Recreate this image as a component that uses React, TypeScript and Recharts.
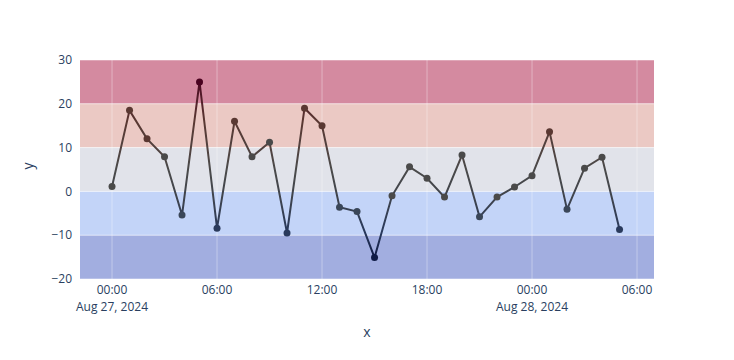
import { LineChart, Line, XAxis, YAxis, ReferenceArea, ReferenceLine } from 'recharts';

// hours since Aug 27, 2024 00:00
const hours = [
  0, 1, 2, 3, 4, 5, 6, 7, 8, 9, 10, 11, 12, 13, 14, 15, 16, 17, 18, 19, 20, 21, 22, 23, 24, 25, 26, 27,
  28, 29,
];
const values = [
  1.1, 18.5, 12.0, 7.9, -5.4, 25.0, -8.4, 16.0, 7.9, 11.2, -9.5, 19.0, 15.0, -3.6, -4.6, -15.1, -1.0,
  5.6, 3.0, -1.3, 8.3, -5.8, -1.3, 1.0, 3.6, 13.6, -4.1, 5.3, 7.8, -8.7,
];
const xTicks = [0, 6, 12, 18, 24, 30];
const xTickTimes = ['00:00', '06:00', '12:00', '18:00', '00:00', '06:00'];
const xTickDates = ['Aug 27, 2024', '', '', '', 'Aug 28, 2024', ''];
const yTicks = [-20, -10, 0, 10, 20, 30];
const bands = [
  { y1: 20, y2: 30, color: '#d48aa0' },
  { y1: 10, y2: 20, color: '#ebc9c4' },
  { y1: 0, y2: 10, color: '#e1e3ea' },
  { y1: -10, y2: 0, color: '#c3d4f8' },
  { y1: -20, y2: -10, color: '#a2aee0' },
];

const data = hours.map((h, i) => ({ h, y: values[i] }));

const font = '"Open Sans", sans-serif';
const textColor = '#2a3f5f';

function pointColor(v: number) {
  if (v >= 22) return '#4a0320';
  if (v >= 12) return '#5a3832';
  if (v >= -2) return '#4a4a4a';
  if (v >= -7) return '#3a4658';
  if (v >= -12) return '#2a3a5c';
  return '#0f1b46';
}

function Dot(props: any) {
  const { cx, cy, payload } = props;
  if (cx == null || cy == null) return null;
  return <circle cx={cx} cy={cy} r={3.5} fill={pointColor(payload.y)} />;
}

function XTick(props: any) {
  const { x, y, payload, index } = props;
  const i = xTicks.indexOf(payload.value);
  return (
    <g key={index}>
      <text x={x} y={y + 7} textAnchor="middle" fontSize={12} fill={textColor} fontFamily={font}>
        {xTickTimes[i]}
      </text>
      {xTickDates[i] && (
        <text x={x} y={y + 24} textAnchor="middle" fontSize={12} fill={textColor} fontFamily={font}>
          {xTickDates[i]}
        </text>
      )}
    </g>
  );
}

export default function App() {
  return (
    <div style={{ position: 'absolute', left: 0, top: 0, width: 734, height: 360, background: '#fff' }}>
      <LineChart width={734} height={360} data={data} margin={{ top: 60, right: 80, bottom: 0, left: 0 }}>
        <defs>
          <linearGradient id="lineGrad" x1="0" y1="60" x2="0" y2="279" gradientUnits="userSpaceOnUse">
            <stop offset="0%" stopColor="#4a0320" />
            <stop offset="10%" stopColor="#4d0a22" />
            <stop offset="28%" stopColor="#5a3832" />
            <stop offset="50%" stopColor="#4a4a4a" />
            <stop offset="62%" stopColor="#40444c" />
            <stop offset="78%" stopColor="#2a3a5c" />
            <stop offset="90%" stopColor="#0f1b46" />
            <stop offset="100%" stopColor="#0a1440" />
          </linearGradient>
        </defs>
        <XAxis
          dataKey="h"
          type="number"
          domain={[-1.83, 30.97]}
          ticks={xTicks}
          allowDataOverflow
          axisLine={false}
          tickLine={false}
          height={81}
          tick={<XTick />}
          label={{ value: 'x', position: 'insideBottom', offset: 23, fill: textColor, fontSize: 14, fontFamily: font }}
        />
        <YAxis
          type="number"
          domain={[-20, 30]}
          ticks={yTicks}
          axisLine={false}
          tickLine={false}
          width={80}
          tickFormatter={(v: number) => (v < 0 ? `\u2212${Math.abs(v)}` : String(v))}
          tick={{ fill: textColor, fontSize: 12, fontFamily: font }}
          label={{ value: 'y', angle: -90, position: 'insideLeft', offset: 28, fill: textColor, fontSize: 14, fontFamily: font }}
        />
        {bands.map((b) => (
          <ReferenceArea key={b.y1} y1={b.y1} y2={b.y2} fill={b.color} fillOpacity={1} stroke="none" ifOverflow="hidden" />
        ))}
        {xTicks.map((t) => (
          <ReferenceLine key={'x' + t} x={t} stroke="#ffffff" strokeOpacity={0.35} strokeWidth={1} />
        ))}
        {yTicks.map((t) => (
          <ReferenceLine key={'y' + t} y={t} stroke="#ffffff" strokeOpacity={0.5} strokeWidth={1} />
        ))}
        <Line
          dataKey="y"
          stroke="url(#lineGrad)"
          strokeWidth={2}
          dot={<Dot />}
          activeDot={false}
          isAnimationActive={false}
        />
      </LineChart>
    </div>
  );
}
